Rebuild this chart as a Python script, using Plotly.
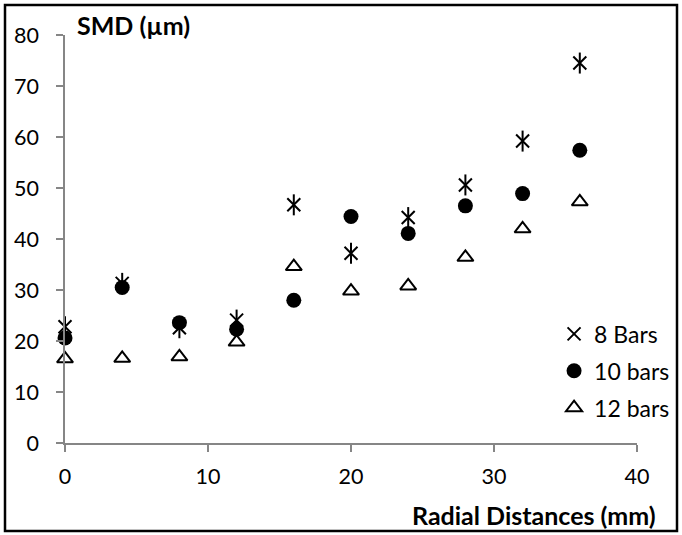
import plotly.graph_objects as go

radial = [0, 4, 8, 12, 16, 20, 24, 28, 32, 36]
smd_8 = [22.8, 31.3, 22.6, 24.1, 46.7, 37.2, 44.2, 50.6, 59.2, 74.5]
smd_10 = [20.6, 30.5, 23.6, 22.3, 28.0, 44.4, 41.1, 46.5, 48.9, 57.4]
smd_12 = [16.5, 16.6, 16.9, 19.8, 34.6, 29.8, 30.8, 36.4, 42.0, 47.3]
names = ["8 Bars", "10 bars", "12 bars"]

FONT = "Lato, Open Sans, sans-serif"
fig = go.Figure()
fig.add_trace(go.Scatter(x=radial, y=smd_8, mode="markers", name=names[0], legendgroup="a",
                         marker=dict(symbol="x-thin-open", size=13, color="black", line=dict(width=2, color="black")),
                         cliponaxis=False))
fig.add_trace(go.Scatter(x=radial, y=smd_8, mode="markers", showlegend=False, legendgroup="a",
                         marker=dict(symbol="line-ns-open", size=15, color="black", line=dict(width=2, color="black")),
                         cliponaxis=False))
fig.add_trace(go.Scatter(x=radial, y=smd_10, mode="markers", name=names[1], legendgroup="b",
                         marker=dict(symbol="circle", size=15, color="black"), cliponaxis=False))
fig.add_trace(go.Scatter(x=radial, y=smd_12, mode="markers", name=names[2], legendgroup="c",
                         marker=dict(symbol="triangle-up-open", size=14, color="black", line=dict(width=2, color="black")),
                         cliponaxis=False))

axis_common = dict(showgrid=False, zeroline=False, showline=True, linecolor="#868686", linewidth=1.5,
                   ticks="outside", ticklen=7, tickcolor="#868686", tickwidth=1.5,
                   tickfont=dict(family=FONT, size=21.5, color="black"))
fig.update_xaxes(range=[0, 40], dtick=10, ticklabelstandoff=6, automargin=False, **axis_common)
fig.update_yaxes(range=[0, 80], dtick=10, ticklabelstandoff=13, automargin=False, **axis_common)

fig.update_layout(
    width=682, height=535,
    margin=dict(l=65, r=45, t=35, b=92, autoexpand=False),
    paper_bgcolor="white", plot_bgcolor="white",
    font=dict(family=FONT, size=23, color="black"),
    legend=dict(x=0.855, y=0.32, xanchor="left", yanchor="top", font=dict(size=23),
                tracegroupgap=4, itemwidth=30, bgcolor="rgba(0,0,0,0)"),
    showlegend=True,
    annotations=[
        dict(text="<b>SMD (µm)</b>", xref="paper", yref="paper", x=0.017, y=1.025,
             xanchor="left", yanchor="middle", showarrow=False, font=dict(size=25, family=FONT)),
        dict(text="<b>Radial Distances (mm)</b>", xref="paper", yref="paper", x=1.037, y=-0.176,
             xanchor="right", yanchor="middle", showarrow=False, font=dict(size=25, family=FONT)),
    ],
    shapes=[dict(type="rect", xref="paper", yref="paper",
                 x0=(5 - 65) / 572, x1=(677 - 65) / 572, y0=(443 - 531) / 408, y1=(443 - 5) / 408,
                 line=dict(color="black", width=2.5))],
)
fig.write_html("out.html")
